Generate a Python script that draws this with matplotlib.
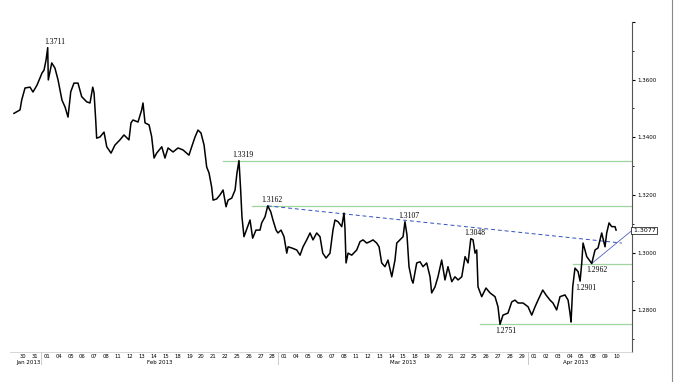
import matplotlib
matplotlib.use("Agg")
import matplotlib.pyplot as plt
import matplotlib.transforms as mtransforms

# trading-day index (0 = 30 Jan 2013) and price
t = [-0.76, -0.25, -0.11, 0.17, 0.59, 0.84, 1.18, 1.60, 1.77, 1.94, 2.08, 2.13, 2.42, 2.69,
     2.95, 3.28, 3.54, 3.79, 4.02, 4.29, 4.63, 4.94, 5.36, 5.64, 5.87, 5.98, 6.12, 6.20,
     6.48, 6.82, 7.05, 7.41, 7.74, 8.16, 8.50, 8.92, 9.09, 9.26, 9.68, 9.99, 10.10, 10.27,
     10.61, 10.83, 11.03, 11.25, 11.68, 11.95, 12.21, 12.63, 13.05, 13.47, 13.97, 14.20,
     14.48, 14.73, 14.98, 15.24, 15.46, 15.66, 15.88, 16.00, 16.30, 16.58, 16.84, 17.09,
     17.26, 17.57, 17.85, 18.01, 18.18, 18.32, 18.43, 18.60, 18.91, 19.11, 19.33, 19.61,
     19.95, 20.09, 20.37, 20.60, 20.85, 21.04, 21.30, 21.46, 21.72, 21.97, 22.20, 22.31,
     22.62, 23.04, 23.32, 23.57, 23.88, 24.16, 24.41, 24.72, 25.00, 25.23, 25.51, 25.84,
     26.09, 26.26, 26.52, 26.83, 27.02, 27.10, 27.19, 27.36, 27.67, 28.09, 28.37, 28.62,
     28.93, 29.21, 29.46, 29.77, 29.97, 30.19, 30.47, 30.72, 31.04, 31.31, 31.46, 31.73,
     31.99, 32.15, 32.32, 32.49, 32.72, 32.83, 33.14, 33.42, 33.67, 33.98, 34.26, 34.40,
     34.68, 34.93, 35.24, 35.52, 35.77, 36.09, 36.36, 36.62, 36.93, 37.21, 37.46, 37.69,
     37.88, 38.05, 38.19, 38.30, 38.61, 38.97, 39.31, 39.73, 39.98, 40.15, 40.40, 40.82,
     41.14, 41.41, 41.67, 42.09, 42.51, 42.82, 43.10, 43.35, 43.75, 44.02, 44.36, 44.61,
     44.92, 45.20, 45.62, 45.88, 46.04, 46.13, 46.27, 46.46, 46.72, 46.89, 47.03, 47.14,
     47.45, 47.87, 48.15, 48.40, 48.71, 48.99, 49.13, 49.33, 49.55, 49.83, 49.92]
price = [1.3483, 1.3495, 1.3529, 1.3571, 1.3574, 1.3557, 1.3581, 1.3623, 1.3633, 1.3668,
         1.3711, 1.3599, 1.3658, 1.3640, 1.3599, 1.3529, 1.3505, 1.3470, 1.3558, 1.3588,
         1.3588, 1.3541, 1.3523, 1.3519, 1.3574, 1.3554, 1.3460, 1.3397, 1.3401, 1.3418,
         1.3367, 1.3345, 1.3373, 1.3391, 1.3408, 1.3391, 1.3450, 1.3460, 1.3453, 1.3495,
         1.3519, 1.3450, 1.3443, 1.3402, 1.3328, 1.3345, 1.3367, 1.3328, 1.3363, 1.3349,
         1.3363, 1.3356, 1.3338, 1.3367, 1.3401, 1.3425, 1.3415, 1.3373, 1.3297, 1.3276,
         1.3227, 1.3182, 1.3186, 1.3200, 1.3217, 1.3159, 1.3182, 1.3189, 1.3217, 1.3276,
         1.3319, 1.3217, 1.3124, 1.3055, 1.3090, 1.3113, 1.3050, 1.3078, 1.3078, 1.3103,
         1.3124, 1.3162, 1.3142, 1.3113, 1.3078, 1.3068, 1.3078, 1.3055, 1.2998, 1.3020,
         1.3016, 1.3009, 1.2991, 1.3020, 1.3044, 1.3068, 1.3044, 1.3068, 1.3055, 1.2998,
         1.2981, 1.2998, 1.3078, 1.3113, 1.3107, 1.3090, 1.3137, 1.3085, 1.2964, 1.2998,
         1.2991, 1.3009, 1.3038, 1.3044, 1.3033, 1.3038, 1.3044, 1.3033, 1.3020, 1.2964,
         1.2951, 1.2974, 1.2916, 1.2974, 1.3033, 1.3044, 1.3055, 1.3107, 1.3061, 1.2951,
         1.2905, 1.2894, 1.2964, 1.2968, 1.2951, 1.2964, 1.2916, 1.2860, 1.2881, 1.2916,
         1.2974, 1.2905, 1.2951, 1.2899, 1.2916, 1.2905, 1.2916, 1.2986, 1.2964, 1.3048,
         1.3044, 1.2998, 1.3009, 1.2881, 1.2847, 1.2877, 1.2860, 1.2847, 1.2812, 1.2751,
         1.2783, 1.2790, 1.2829, 1.2835, 1.2825, 1.2825, 1.2812, 1.2783, 1.2812, 1.2835,
         1.2870, 1.2853, 1.2835, 1.2825, 1.2801, 1.2847, 1.2853, 1.2835, 1.2790, 1.2759,
         1.2881, 1.2946, 1.2934, 1.2901, 1.2964, 1.3033, 1.2986, 1.2962, 1.3009, 1.3016,
         1.3068, 1.3020, 1.3068, 1.3103, 1.3090, 1.3090, 1.3078]

day_labels = ["30", "31",
              "01", "04", "05", "06", "07", "08", "11", "12", "13", "14", "15", "18", "19",
              "20", "21", "22", "25", "26", "27", "28",
              "01", "04", "05", "06", "07", "08", "11", "12", "13", "14", "15", "18", "19",
              "20", "21", "22", "25", "26", "27", "28", "29",
              "01", "02", "03", "04", "05", "08", "09", "10"]
months = ["Jan 2013", "Feb 2013", "Mar 2013", "Apr 2013"]
month_start = [0, 2, 22, 43]

# horizontal support/resistance levels: (price, starting day)
levels = [(1.3319, 16.84), (1.3162, 19.3), (1.2962, 46.3), (1.2751, 38.5)]
# marked highs/lows: (day, price, text, above)
marks = [(2.08, 1.3711, "1.3711", True), (18.18, 1.3319, "1.3319", True),
         (20.60, 1.3162, "1.3162", True), (32.15, 1.3107, "1.3107", True),
         (37.69, 1.3048, "1.3048", True), (47.87, 1.2962, "1.2962", False),
         (46.89, 1.2901, "1.2901", False), (40.15, 1.2751, "1.2751", False)]
last_price = 1.3077

X0, X1 = -1.094, 51.26
Y0, Y1 = 1.2655, 1.38

fig = plt.figure(figsize=(6.86, 3.82), dpi=100)
ax = fig.add_axes([10 / 686, 1 - 352 / 382, 622 / 686, 330 / 382])
ax.set_xlim(X0, X1)
ax.set_ylim(Y0, Y1)

for p, start in levels:
    ax.plot([start, X1], [p, p], color="#9fd49f", lw=0.9, zorder=1)

# falling resistance (dashed) and rising support (thin)
ax.plot([20.60, 50.4], [1.3162, 1.3033], color="#3050c0", lw=0.7, ls=(0, (4, 3)), zorder=1)
ax.plot([47.87, X1], [1.2962, last_price], color="#5060c0", lw=0.6, zorder=1)

ax.plot(t, price, color="black", lw=1.1, zorder=3)

for d, p, txt, above in marks:
    if above:
        dx = 5 if txt == "1.3711" else 3
        ax.annotate(txt, (d, p), xytext=(dx, 1.5), textcoords="offset points",
                    ha="center", va="bottom", fontsize=5.5, family="Liberation Serif")
    else:
        ax.annotate(txt, (d, p), xytext=(4, -2), textcoords="offset points",
                    ha="center", va="top", fontsize=5.5, family="Liberation Serif")

ax.text(X1, last_price, " 1.3077", fontsize=4.5, va="center", ha="left",
        bbox=dict(boxstyle="square,pad=0.15", fc="white", ec="black", lw=0.5),
        clip_on=False)

for s in ["top", "left"]:
    ax.spines[s].set_visible(False)
ax.spines["bottom"].set_color("#d0d0d0")
ax.spines["bottom"].set_linewidth(0.6)
ax.spines["right"].set_color("#555555")
ax.spines["right"].set_linewidth(0.8)

ax.yaxis.tick_right()
ax.set_yticks([1.28, 1.30, 1.32, 1.34, 1.36, 1.38])
ax.set_yticklabels(["1.2800", "1.3000", "1.3200", "1.3400", "1.3600", ""])
ax.set_yticks([1.27, 1.29, 1.31, 1.33, 1.35, 1.37], minor=True)
ax.tick_params(axis="y", which="major", length=2.5, width=0.8, pad=1, labelsize=4)
ax.tick_params(axis="y", which="minor", length=1.2, width=0.6)

ax.set_xticks(range(len(day_labels)))
ax.set_xticklabels(day_labels)
ax.tick_params(axis="x", length=0, pad=1.5, labelsize=3.8)

trans = mtransforms.blended_transform_factory(ax.transData, ax.transAxes)
ends = month_start[1:] + [len(day_labels)]
for name, a, b in zip(months, month_start, ends):
    ax.text((a + b - 1) / 2, -0.024, name, transform=trans, ha="center", va="top", fontsize=4)
for a in month_start[1:]:
    ax.plot([a - 0.5, a - 0.5], [0, -0.036], transform=trans, color="#c0c0c0",
            lw=0.6, clip_on=False)

# outer frame line on the right
fig.add_artist(plt.Line2D([672 / 686, 672 / 686], [0, 1], color="#888888", lw=0.8))

fig.savefig("out.png", dpi=100)
